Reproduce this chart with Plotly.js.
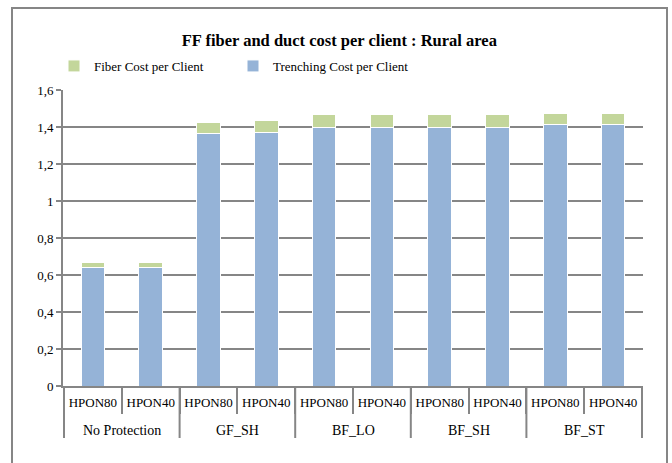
<!DOCTYPE html>
<html>
<head>
<meta charset="utf-8">
<script src="https://cdn.plot.ly/plotly-3.0.1.min.js"></script>
<style>html,body{margin:0;padding:0;background:#fff;}#chart{width:672px;height:463px;}</style>
</head>
<body>
<div id="chart"></div>
<script>
const groups = ["No Protection","No Protection","GF_SH","GF_SH","BF_LO","BF_LO","BF_SH","BF_SH","BF_ST","BF_ST"];
const variants = ["HPON80","HPON40","HPON80","HPON40","HPON80","HPON40","HPON80","HPON40","HPON80","HPON40"];
const trenchingCost = [0.64, 0.64, 1.366, 1.373, 1.40, 1.40, 1.40, 1.40, 1.412, 1.412];
const fiberCost = [0.027, 0.027, 0.061, 0.061, 0.065, 0.065, 0.065, 0.065, 0.062, 0.062];
const yTicks = [0, 0.2, 0.4, 0.6, 0.8, 1, 1.2, 1.4, 1.6];

const font = "Liberation Serif, Times New Roman, serif";
const grey = "#868686";

const keys = groups.map((g, i) => g + " | " + variants[i]);

const traces = [
  {type:"bar", name:"Trenching Cost per Client", x:keys, y:trenchingCost,
   marker:{color:"#95B3D7", line:{color:"#ffffff", width:1}}},
  {type:"bar", name:"Fiber Cost per Client", x:keys, y:fiberCost,
   marker:{color:"#C3D69B", line:{color:"#ffffff", width:1}}}
];

const L = 63, R = 643, T = 90, B = 386;
const W = R - L, H = B - T;

// group spans (start/end index) derived from the groups array
const spans = [];
groups.forEach((g, i) => {
  if (!spans.length || spans[spans.length-1].name !== g) spans.push({name:g, start:i, end:i});
  else spans[spans.length-1].end = i;
});

const groupAnnotations = spans.map(s => ({
  xref:"x", yref:"paper", x:(s.start + s.end)/2, y:-(430-B)/H, yanchor:"middle", xanchor:"center",
  text:s.name, showarrow:false, font:{family:font, size:14, color:"#000"}
}));

const dividerShapes = [];
spans.forEach((s, k) => {
  if (k === 0) dividerShapes.push({type:"line", xref:"x", yref:"paper", x0:s.start-0.5, x1:s.start-0.5, y0:0, y1:-(438-B)/H, line:{color:grey, width:2}});
  dividerShapes.push({type:"line", xref:"x", yref:"paper", x0:s.end+0.5, x1:s.end+0.5, y0:0, y1:-(438-B)/H, line:{color:grey, width:2}});
});

const layout = {
  width:672, height:463,
  margin:{l:L, r:672-R, t:T, b:463-B},
  paper_bgcolor:"#ffffff", plot_bgcolor:"#ffffff",
  barmode:"stack", bargap:0.59,
  separators:", ",
  font:{family:font, size:12, color:"#000"},
  showlegend:true,
  title:{text:"<b>FF fiber and duct cost per client : Rural area</b>", font:{family:font, size:16.5, color:"#000"},
         x:0.505, xanchor:"center", y:1-40/463, yanchor:"middle", yref:"container"},
  legend:{orientation:"h", traceorder:"reversed", x:(54-L)/W, xanchor:"left", y:(B-66)/H, yanchor:"middle",
          font:{family:font, size:13}, entrywidth:134, entrywidthmode:"pixels", itemwidth:30, bgcolor:"rgba(0,0,0,0)"},
  xaxis:{type:"category", tickvals:keys, ticktext:variants, showline:true, linecolor:grey, linewidth:2, tickangle:0,
         ticks:"outside", tickson:"boundaries", ticklen:26, tickcolor:grey, tickwidth:2,
         ticklabelstandoff:3,
         tickfont:{family:font, size:13, color:"#000"}, showgrid:false},
  yaxis:{range:[0,1.6], tickvals:yTicks, showgrid:true, gridcolor:grey, gridwidth:2,
         zeroline:false, showline:true, linecolor:grey, linewidth:2,
         ticks:"outside", ticklen:5, tickcolor:grey, tickwidth:2,
         tickfont:{family:font, size:13, color:"#000"}},
  annotations:groupAnnotations,
  shapes:[{type:"rect", xref:"paper", yref:"paper",
           x0:(12-L)/W, x1:(667-L)/W, y0:(B-480)/H, y1:(B-8)/H,
           line:{color:grey, width:2}, fillcolor:"rgba(0,0,0,0)", layer:"below"}].concat(dividerShapes)
};

Plotly.newPlot("chart", traces, layout, {displayModeBar:false, staticPlot:true});
</script>
</body>
</html>
